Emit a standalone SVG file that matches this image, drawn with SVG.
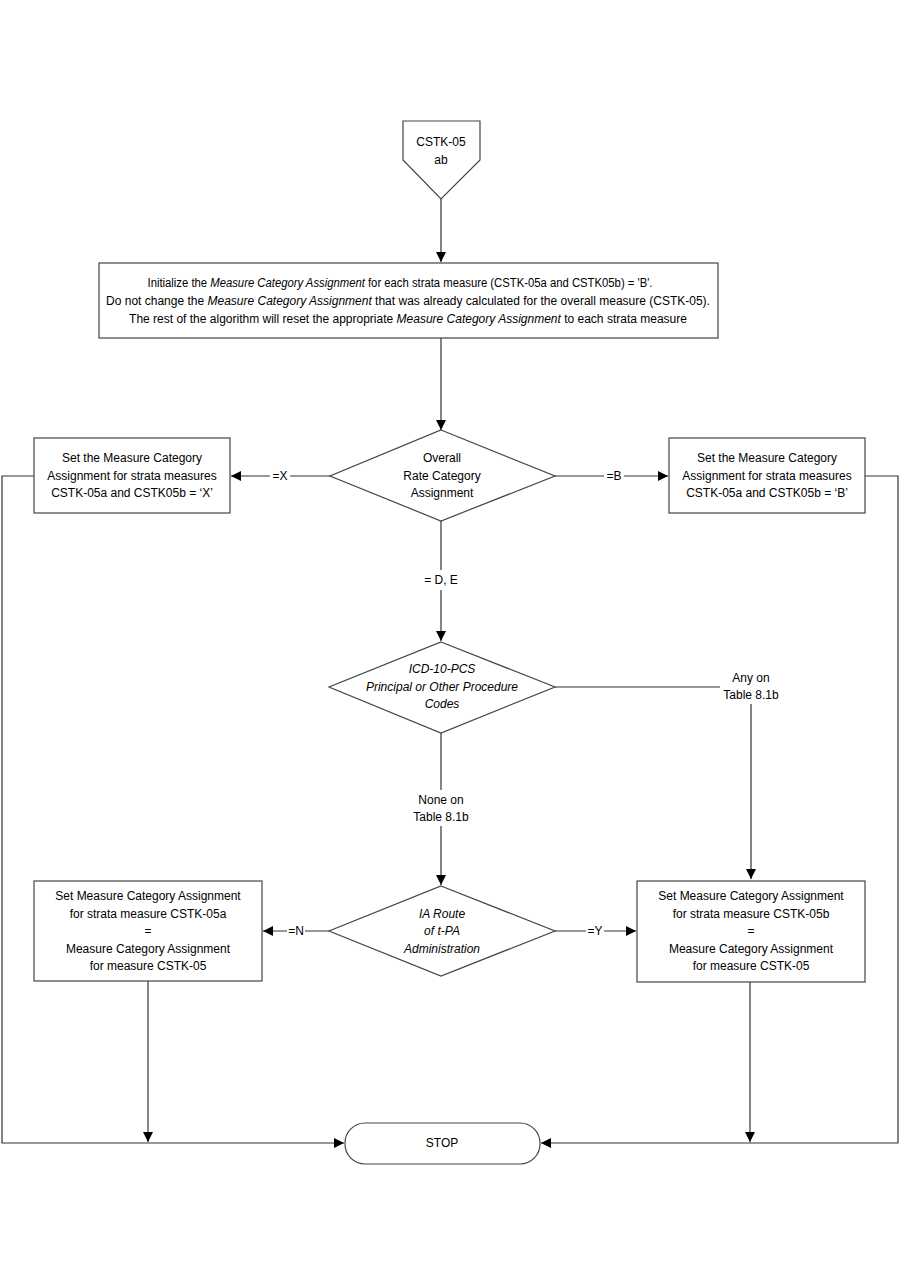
<svg xmlns="http://www.w3.org/2000/svg" width="900" height="1286" viewBox="0 0 900 1286">
<defs>
<marker id="arr" viewBox="0 0 10 10" refX="10" refY="5" markerWidth="10" markerHeight="10" markerUnits="userSpaceOnUse" orient="auto">
<path d="M0,0 L10,5 L0,10 z" fill="#000"/>
</marker>
<style>
.box{fill:#fff;stroke:#444;stroke-width:1.2}
.ln{fill:none;stroke:#333;stroke-width:1.2}
.t{font-family:"Liberation Sans",Arial,sans-serif;font-size:12px;fill:#000;text-anchor:middle}
.i{font-style:italic}
.lbl{fill:#fff;stroke:none}
</style>
</defs>
<rect width="900" height="1286" fill="#fff"/>
<g id="connectors">
<path class="ln" d="M441,199 V262" marker-end="url(#arr)"/>
<path class="ln" d="M441,338 V430" marker-end="url(#arr)"/>
<path class="ln" d="M330,476 H231" marker-end="url(#arr)"/>
<path class="ln" d="M555,476 H668" marker-end="url(#arr)"/>
<path class="ln" d="M441,521 V641" marker-end="url(#arr)"/>
<path class="ln" d="M555,687 H751 V879" marker-end="url(#arr)"/>
<path class="ln" d="M441,733 V885" marker-end="url(#arr)"/>
<path class="ln" d="M329,931 H263" marker-end="url(#arr)"/>
<path class="ln" d="M555,931 H636" marker-end="url(#arr)"/>
<path class="ln" d="M34,476 H2 V1143 H344" marker-end="url(#arr)"/>
<path class="ln" d="M865,476 H898 V1143 H541" marker-end="url(#arr)"/>
<path class="ln" d="M148,981 V1142" marker-end="url(#arr)"/>
<path class="ln" d="M750,982 V1142" marker-end="url(#arr)"/>
<rect class="lbl" x="270" y="468" width="20" height="16"/>
<text class="t" x="280" y="480">=X</text>
<rect class="lbl" x="604" y="468" width="20" height="16"/>
<text class="t" x="614" y="480">=B</text>
<rect class="lbl" x="418" y="570" width="46" height="20"/>
<text class="t" x="441" y="584">= D, E</text>
<rect class="lbl" x="720" y="668" width="62" height="36"/>
<text class="t" x="751" y="682">Any on</text>
<text class="t" x="751" y="699">Table 8.1b</text>
<rect class="lbl" x="410" y="790" width="62" height="36"/>
<text class="t" x="441" y="804">None on</text>
<text class="t" x="441" y="821">Table 8.1b</text>
<rect class="lbl" x="287" y="923" width="18" height="16"/>
<text class="t" x="296" y="935">=N</text>
<rect class="lbl" x="586" y="923" width="18" height="16"/>
<text class="t" x="595" y="935">=Y</text>
</g>
<g id="start">
<path class="box" d="M403,121 H480 V160 L441,199 L403,160 Z"/>
<text class="t" x="441" y="146">CSTK-05</text>
<text class="t" x="441" y="164">ab</text>
</g>
<g id="init">
<rect class="box" x="99" y="263" width="619" height="75"/>
<text class="t" x="400" y="287" textLength="505" lengthAdjust="spacingAndGlyphs">Initialize the <tspan class="i">Measure Category Assignment</tspan> for each strata measure (CSTK-05a and CSTK05b) = 'B'.</text>
<text class="t" x="408" y="305">Do not change the <tspan class="i">Measure Category Assignment</tspan> that was already calculated for the overall measure (CSTK-05).</text>
<text class="t" x="408" y="323">The rest of the algorithm will reset the appropriate <tspan class="i">Measure Category Assignment</tspan>  to each strata measure</text>
</g>
<g id="overall">
<path class="box" d="M441,430 L555,476 L441,521 L330,476 Z"/>
<text class="t" x="442" y="462">Overall</text>
<text class="t" x="442" y="480">Rate Category</text>
<text class="t" x="442" y="497">Assignment</text>
</g>
<g id="setX">
<rect class="box" x="34" y="438" width="196" height="75"/>
<text class="t" x="132" y="462">Set the Measure Category</text>
<text class="t" x="132" y="480">Assignment for strata  measures</text>
<text class="t" x="132" y="497">CSTK-05a  and CSTK05b = ‘X’</text>
</g>
<g id="setB">
<rect class="box" x="669" y="438" width="196" height="75"/>
<text class="t" x="767" y="462">Set the Measure Category</text>
<text class="t" x="767" y="480">Assignment for strata  measures</text>
<text class="t" x="767" y="497">CSTK-05a  and CSTK05b = ‘B’</text>
</g>
<g id="icd">
<path class="box" d="M441,642 L555,687 L441,733 L329,687 Z"/>
<text class="t i" x="442" y="673">ICD-10-PCS</text>
<text class="t i" x="442" y="691">Principal or Other Procedure</text>
<text class="t i" x="442" y="708">Codes</text>
</g>
<g id="route">
<path class="box" d="M441,886 L555,931 L441,976 L329,931 Z"/>
<text class="t i" x="442" y="918">IA Route</text>
<text class="t i" x="442" y="935">of t-PA</text>
<text class="t i" x="442" y="953">Administration</text>
</g>
<g id="setA">
<rect class="box" x="34" y="881" width="228" height="100"/>
<text class="t" x="148" y="900">Set Measure Category Assignment</text>
<text class="t" x="148" y="918">for strata measure CSTK-05a</text>
<text class="t" x="148" y="935">=</text>
<text class="t" x="148" y="953">Measure Category Assignment</text>
<text class="t" x="148" y="970">for measure CSTK-05</text>
</g>
<g id="setBb">
<rect class="box" x="637" y="881" width="228" height="101"/>
<text class="t" x="751" y="900">Set Measure Category Assignment</text>
<text class="t" x="751" y="918">for strata measure CSTK-05b</text>
<text class="t" x="751" y="935">=</text>
<text class="t" x="751" y="953">Measure Category Assignment</text>
<text class="t" x="751" y="970">for measure CSTK-05</text>
</g>
<g id="stop">
<rect class="box" x="345" y="1123" width="195" height="41" rx="20" ry="20"/>
<text class="t" x="442" y="1147">STOP</text>
</g>
</svg>
